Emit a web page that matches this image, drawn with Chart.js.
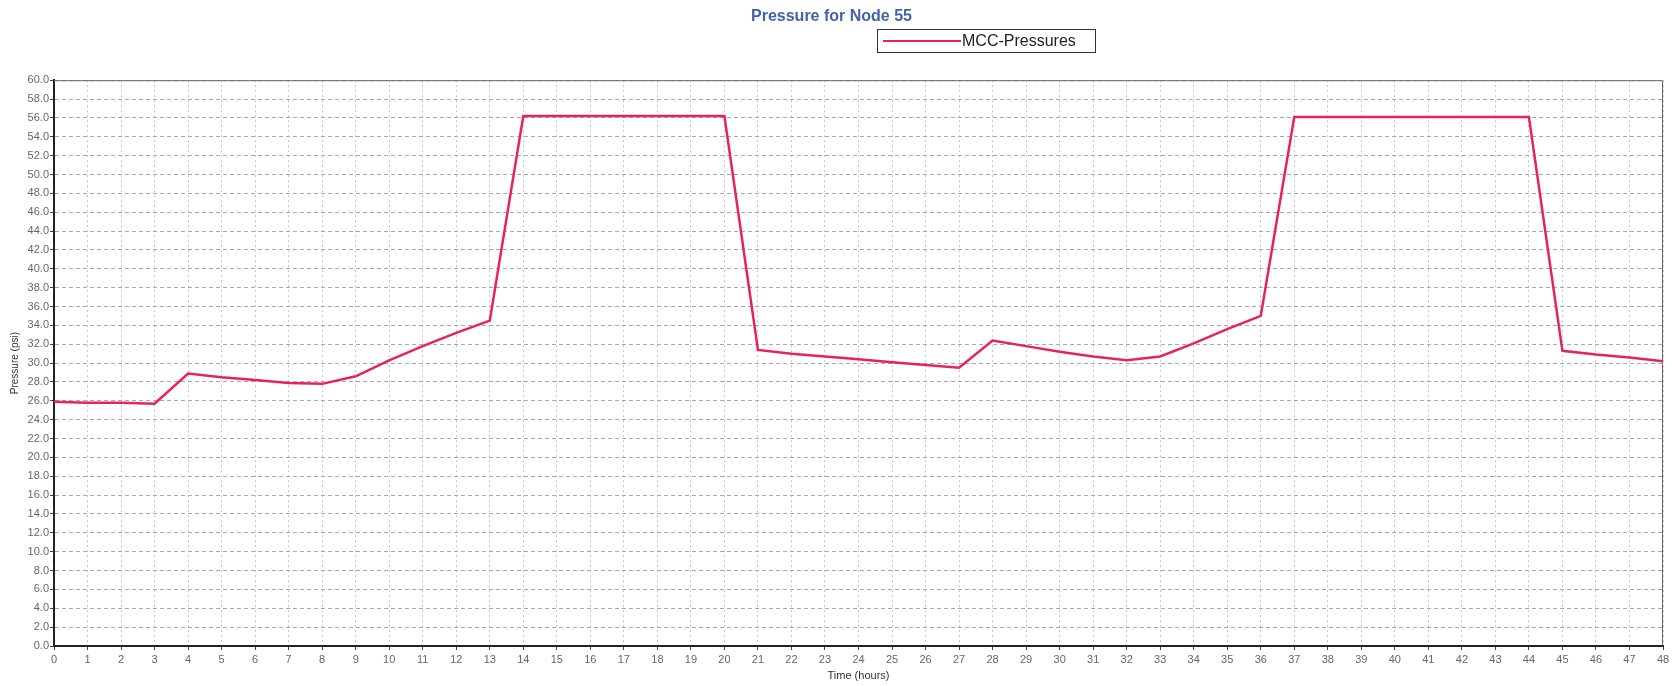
<!DOCTYPE html>
<html>
<head>
<meta charset="utf-8">
<title>Pressure for Node 55</title>
<script src="https://cdn.jsdelivr.net/npm/chart.js@4"></script>
<style>
  body { margin: 0; background: #fff; }
  #wrap { position: relative; width: 1677px; height: 686px; }
</style>
</head>
<body>
<div id="wrap"><canvas id="pressure-chart"></canvas></div>
<script>
// hours on the x axis
const hours = [
    '0', '1', '2', '3', '4', '5', '6', '7', '8', '9', '10', '11', '12',
    '13', '14', '15', '16', '17', '18', '19', '20', '21', '22', '23', '24',
    '25', '26', '27', '28', '29', '30', '31', '32', '33', '34', '35', '36',
    '37', '38', '39', '40', '41', '42', '43', '44', '45', '46', '47', '48'
];

// pressures (psi)
const mccPressures = [
    25.9, 25.8, 25.8, 25.7, 28.9, 28.5, 28.2, 27.9, 27.8, 28.6, 30.3, 31.8, 33.2,
    34.5, 56.2, 56.2, 56.2, 56.2, 56.2, 56.2, 56.2, 31.4, 31.0, 30.7, 30.4,
    30.1, 29.8, 29.5, 32.4, 31.8, 31.2, 30.7, 30.3, 30.7, 32.1, 33.6, 35.0,
    56.1, 56.1, 56.1, 56.1, 56.1, 56.1, 56.1, 56.1, 31.3, 30.9, 30.6, 30.2
];

const chartTitle = 'Pressure for Node 55';
const seriesLabel = 'MCC-Pressures';
const xTitle = 'Time (hours)';
const yTitle = 'Pressure (psi)';

document.addEventListener('DOMContentLoaded', () => {
    const canvas = document.getElementById('pressure-chart');

    // boxed legend sitting under the title, right of centre
    const boxedLegend = {
        id: 'boxedLegend',
        afterDraw(chart) {
            const ctx = chart.ctx;
            const ds = chart.data.datasets[0];
            ctx.save();
            ctx.strokeStyle = '#333';
            ctx.lineWidth = 1;
            ctx.strokeRect(877.5, 29.5, 218, 23);
            ctx.strokeStyle = ds.borderColor;
            ctx.lineWidth = 2;
            ctx.beginPath();
            ctx.moveTo(883, 41);
            ctx.lineTo(961, 41);
            ctx.stroke();
            ctx.fillStyle = '#222';
            ctx.font = '16px "Liberation Sans", Arial, sans-serif';
            ctx.textBaseline = 'middle';
            ctx.fillText(ds.label, 962, 41.5);
            ctx.restore();
        }
    };

    // thin frame on top and right of the plot
    const plotFrame = {
        id: 'plotFrame',
        beforeDatasetsDraw(chart) {
            const { ctx, chartArea: a } = chart;
            ctx.save();
            ctx.strokeStyle = '#666';
            ctx.lineWidth = 1;
            ctx.beginPath();
            ctx.moveTo(a.left, a.top + 0.5);
            ctx.lineTo(a.right - 0.5, a.top + 0.5);
            ctx.lineTo(a.right - 0.5, a.bottom);
            ctx.stroke();
            ctx.restore();
        }
    };

    new Chart(canvas, {
        type: 'line',
        data: {
            labels: hours,
            datasets: [{
                label: seriesLabel,
                data: mccPressures,
                borderColor: '#e8225c',
                backgroundColor: '#e8225c',
                borderWidth: 2.5,
                pointRadius: 0,
                tension: 0,
                fill: false
            }]
        },
        options: {
            responsive: true,
            maintainAspectRatio: false,
            animation: false,
            layout: { padding: { left: 0, right: 14, top: 0, bottom: 0 } },
            plugins: {
                legend: { display: false },
                tooltip: { enabled: false },
                title: {
                    display: true,
                    text: chartTitle,
                    color: '#4263a8',
                    font: { family: '"Liberation Sans", Arial, sans-serif', size: 16, weight: 'bold' },
                    padding: { top: 7, bottom: 54 }
                }
            },
            scales: {
                x: {
                    offset: false,
                    afterFit(scale) { scale.height = 40; },
                    grid: {
                        color: '#c4c4c4',
                        tickColor: '#444',
                        tickLength: 4,
                        tickBorderDash: []
                    },
                    border: { display: true, color: '#222', width: 2, dash: [2, 3] },
                    ticks: {
                        color: '#666',
                        padding: 3,
                        maxRotation: 0,
                        autoSkip: false,
                        font: { family: '"Liberation Sans", Arial, sans-serif', size: 11 }
                    },
                    title: {
                        display: true,
                        text: xTitle,
                        color: '#333',
                        padding: { top: 3, bottom: 3 },
                        font: { family: '"Liberation Sans", Arial, sans-serif', size: 11 }
                    }
                },
                y: {
                    min: 0,
                    max: 60,
                    afterFit(scale) { scale.width = 54; },
                    grid: {
                        color: '#a8a8a8',
                        tickColor: '#444',
                        tickLength: 4,
                        tickBorderDash: []
                    },
                    border: { display: true, color: '#222', width: 2, dash: [4, 3] },
                    ticks: {
                        stepSize: 2,
                        color: '#666',
                        padding: 1,
                        font: { family: '"Liberation Sans", Arial, sans-serif', size: 11 },
                        callback: v => v.toFixed(1)
                    },
                    title: {
                        display: true,
                        text: yTitle,
                        color: '#333',
                        padding: { top: 9, bottom: 9 },
                        font: { family: '"Liberation Sans", Arial, sans-serif', size: 10 }
                    }
                }
            }
        },
        plugins: [plotFrame, boxedLegend]
    });
});
</script>
</body>
</html>
